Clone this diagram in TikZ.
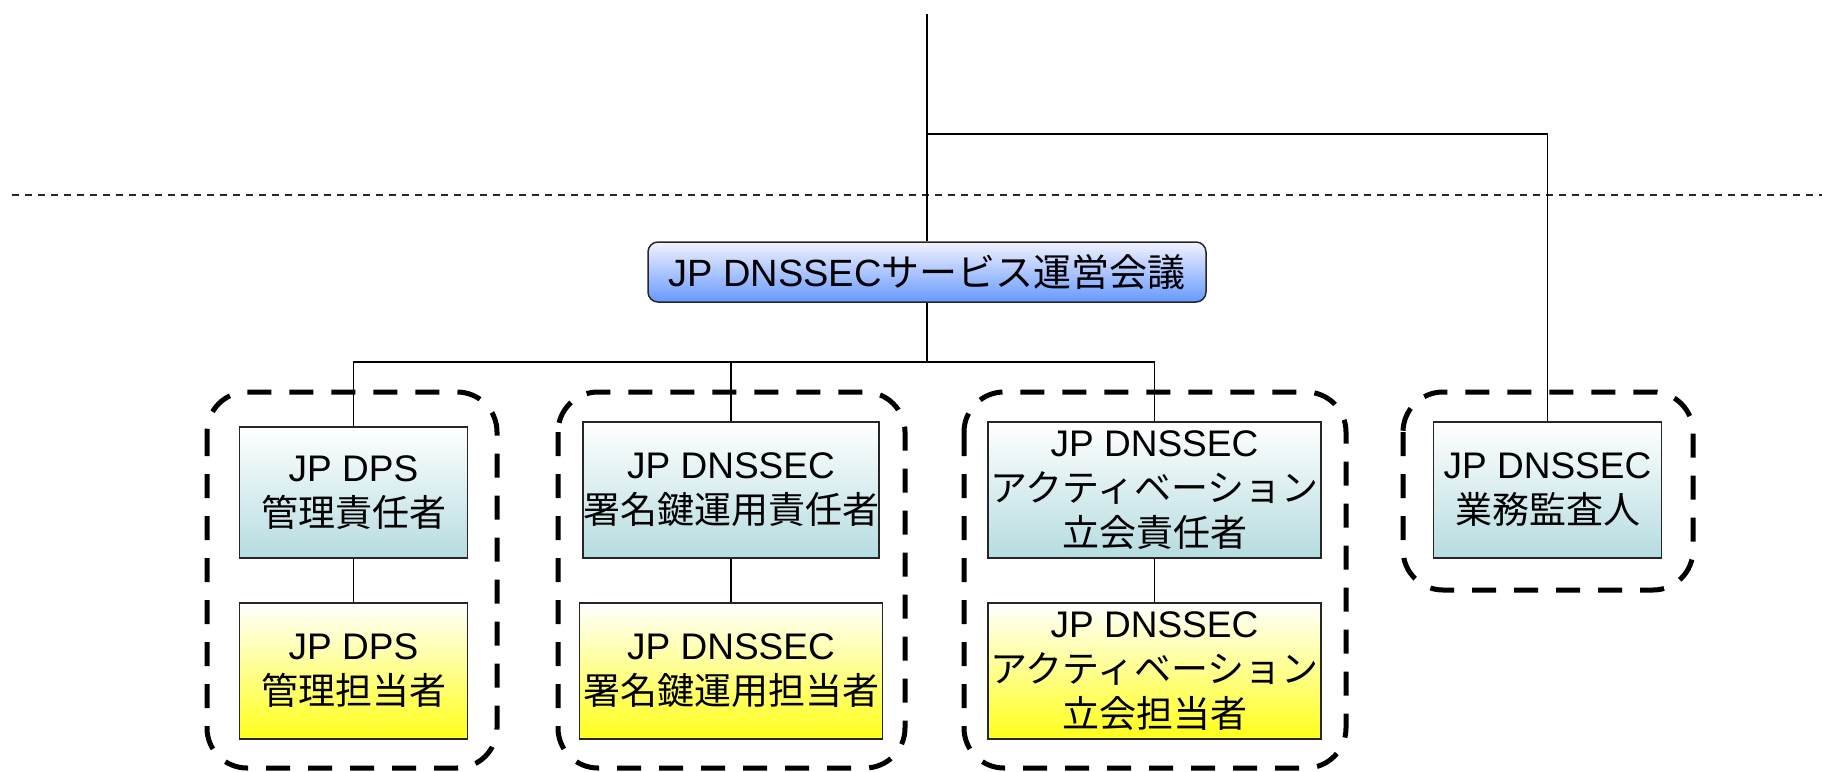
\documentclass[tikz,border=0pt]{standalone}
\usepackage{fontspec}
\setmainfont{Liberation Sans}
\newfontfamily\jp{Noto Sans CJK JP}
\definecolor{tealbot}{HTML}{B5DCE0}
\definecolor{yelbot}{HTML}{FFFF1A}
\definecolor{bluetop}{HTML}{F2F2FF}
\definecolor{bluebot}{HTML}{6699FF}
\tikzset{
  conn/.style={draw=black, line width=1.5pt},
  respbox/.style={draw=black!85, line width=1.5pt, top color=white, bottom color=tealbot,
    inner sep=0pt, align=center, font=\fontsize{37}{45}\selectfont},
  workbox/.style={draw=black!85, line width=1.5pt, top color=white, bottom color=yelbot,
    inner sep=0pt, align=center, font=\fontsize{37}{45}\selectfont},
  councilbox/.style={draw=black!85, line width=1.5pt, top color=bluetop, bottom color=bluebot,
    rounded corners=10pt, inner sep=0pt, align=center, font=\fontsize{38}{45}\selectfont,
    minimum width=558pt, minimum height=60pt},
  groupbox/.style={draw=black, line width=5pt, dash pattern=on 24pt off 18pt, rounded corners=40pt},
  sepline/.style={draw=black!85, line width=2pt, dash pattern=on 7pt off 6pt}
}
\begin{document}
\begin{tikzpicture}[x=1pt,y=-1pt]
\useasboundingbox (0,0) rectangle (1822,771);
% group outlines
\draw[groupbox] (207,392) rectangle (497,768);
\draw[groupbox] (558,392) rectangle (905,768);
\draw[groupbox] (964,392) rectangle (1346,768);
\draw[groupbox] (1403,392) rectangle (1693,590);
% separator
\draw[sepline] (12,195) -- (1822,195);
% nodes
\node[councilbox] (council) at (927,272) {JP DNSSEC{\jp サービス運営会議}};
\node[respbox, minimum width=228pt, minimum height=131pt] (r1) at (353.5,492.5) {JP DPS\\{\jp 管理責任者}};
\node[workbox, minimum width=228pt, minimum height=136pt] (w1) at (353.5,671) {JP DPS\\{\jp 管理担当者}};
\node[respbox, minimum width=288pt, minimum height=136pt] (r2) at (731,490) {JP DNSSEC\\{\jp 署名鍵運用責任者}};
\node[workbox, minimum width=303pt, minimum height=136pt] (w2) at (731,671) {JP DNSSEC\\{\jp 署名鍵運用担当者}};
\node[respbox, minimum width=333pt, minimum height=136pt] (r3) at (1154.5,490) {JP DNSSEC\\{\jp アクティベーション}\\{\jp 立会責任者}};
\node[workbox, minimum width=333pt, minimum height=136pt] (w3) at (1154.5,671) {JP DNSSEC\\{\jp アクティベーション}\\{\jp 立会担当者}};
\node[respbox, minimum width=228pt, minimum height=136pt] (au) at (1547.5,490) {JP DNSSEC\\{\jp 業務監査人}};
% connectors
\coordinate (top) at (927,14);
\coordinate (j) at (927,134);
\coordinate (br) at (927,362);
\draw[conn] (top) -- (council.north);
\draw[conn] (j) -| (au.north);
\draw[conn] (council.south) -- (br);
\draw[conn] (br) -| (r1.north);
\draw[conn] (br) -| (r2.north);
\draw[conn] (br) -| (r3.north);
\draw[conn] (r1.south) -- (w1.north);
\draw[conn] (r2.south) -- (w2.north);
\draw[conn] (r3.south) -- (w3.north);
\end{tikzpicture}
\end{document}
